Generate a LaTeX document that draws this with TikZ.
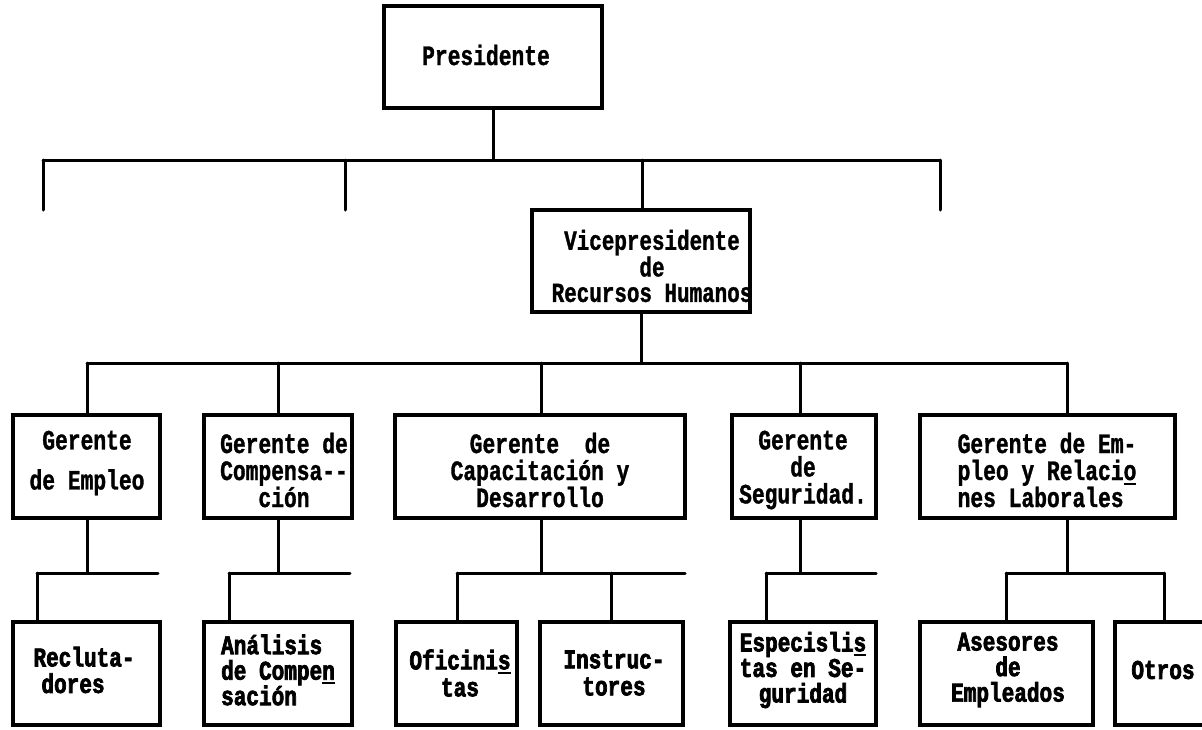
\documentclass[tikz,border=0pt]{standalone}
\usepackage{fontspec}
\setmainfont{Liberation Mono}[BoldFont={Liberation Mono Bold}, BoldFeatures={FakeBold=1.2}, FakeStretch=0.76]
\newfontfamily\heavyfont{Liberation Mono Bold}[FakeStretch=0.78, FakeBold=2.6]
\newcommand\lastul[1]{\makebox[0pt][l]{\rule[-4.5pt]{12.8pt}{2pt}}#1}
\begin{document}
\begin{tikzpicture}[x=1pt,y=-1pt,
  box/.style={draw, line width=3.2pt, inner sep=0pt},
  conn/.style={line width=3pt, line cap=round},
  upper/.style={font=\bfseries\fontsize{28}{27}\selectfont, align=center, inner sep=0pt},
  lower/.style={font=\heavyfont\fontsize{27}{25.5}\selectfont, align=center, inner sep=0pt}]
\useasboundingbox (0,0) rectangle (1202,729);

% boxes
\node[box, minimum width=218pt, minimum height=102pt] (pres) at (493,57) {};
\node[box, minimum width=218pt, minimum height=102pt] (vp) at (641,261) {};
\node[box, minimum width=147pt, minimum height=103pt] (b1) at (86.5,466.5) {};
\node[box, minimum width=148pt, minimum height=103pt] (b2) at (278,466.5) {};
\node[box, minimum width=290pt, minimum height=103pt] (b3) at (540,466.5) {};
\node[box, minimum width=144pt, minimum height=103pt] (b4) at (804,466.5) {};
\node[box, minimum width=255pt, minimum height=103pt] (b5) at (1047.5,466.5) {};
\node[box, minimum width=147pt, minimum height=103pt] (s1) at (86.5,673.5) {};
\node[box, minimum width=148pt, minimum height=103pt] (s2) at (278,673.5) {};
\node[box, minimum width=121pt, minimum height=103pt] (s3) at (456.5,673.5) {};
\node[box, minimum width=143pt, minimum height=103pt] (s4) at (611.5,673.5) {};
\node[box, minimum width=146pt, minimum height=103pt] (s5) at (803,673.5) {};
\node[box, minimum width=173pt, minimum height=103pt] (s6) at (1006.5,673.5) {};
\node[box, minimum width=100pt, minimum height=103pt] (s7) at (1165,673.5) {};

% texts
\node[upper] (tpres) at (486,55) {Presidente};
\node[upper, font=\bfseries\fontsize{27.5}{25.5}\selectfont] (tvp) at (652,266) {Vicepresidente\\de\\Recursos Humanos};
\node[upper] (tb1) at (87,463) {Gerente\\[13pt]de Empleo};
\node[upper] (tb2) at (284,470) {Gerente de\\Compensa-{}-\\ción};
\node[upper] (tb3) at (540,470) {Gerente~~de\\Capacitación y\\Desarrollo};
\node[upper] (tb4) at (803,470) {Gerente\\de\\Seguridad.};
\node[upper, align=left] (tb5) at (1047,470) {Gerente de Em-\\pleo y Relaci\lastul{o}\\nes Laborales};
\node[lower, align=left, font=\heavyfont\fontsize{27}{26.5}\selectfont] (ts1) at (84,670) {Recluta-\\\hspace*{8pt}dores};
\node[lower, align=left] (ts2) at (278,670) {Análisis\\de Compe\lastul{n}\\sación};
\node[lower, font=\heavyfont\fontsize{27}{27}\selectfont] (ts3) at (460,673) {Oficini\lastul{s}\\tas};
\node[lower, font=\heavyfont\fontsize{27}{27}\selectfont] (ts4) at (614,673) {Instruc-\\tores};
\node[lower] (ts5) at (803,670) {Especisli\lastul{s}\\tas en Se-\\guridad};
\node[lower] (ts6) at (1008,670) {Asesores\\de\\Empleados};
\node[lower] (ts7) at (1163,670) {Otros};

% top level connectors
\coordinate (ta) at (43,160);
\coordinate (tb) at (345,160);
\coordinate (tc) at (642,160);
\coordinate (td) at (940,160);
\coordinate (ea) at (43,210);
\coordinate (eb) at (345,210);
\coordinate (ed) at (940,210);
\draw[conn] (pres.south) -- (pres.south |- ta);
\draw[conn] (ta) -- (td);
\draw[conn] (ta) -- (ea);
\draw[conn] (tb) -- (eb);
\draw[conn] (td) -- (ed);
\draw[conn] (tc) -- (tc |- vp.north);

% vice president to managers
\coordinate (ma) at (87,363);
\coordinate (mb) at (278,363);
\coordinate (mc) at (541,363);
\coordinate (md) at (800,363);
\coordinate (me) at (1067,363);
\draw[conn] (vp.south) -- (vp.south |- ma);
\draw[conn] (ma) -- (me);
\draw[conn] (ma) -- (ma |- b1.north);
\draw[conn] (mb) -- (mb |- b2.north);
\draw[conn] (mc) -- (mc |- b3.north);
\draw[conn] (md) -- (md |- b4.north);
\draw[conn] (me) -- (me |- b5.north);

% managers to staff
\coordinate (la1) at (37,573);
\coordinate (la2) at (158,573);
\draw[conn] (ma |- b1.south) -- (ma |- la1);
\draw[conn] (la1) -- (la2);
\draw[conn] (la1) -- (la1 |- s1.north);

\coordinate (lb1) at (229,573);
\coordinate (lb2) at (350,573);
\draw[conn] (mb |- b2.south) -- (mb |- lb1);
\draw[conn] (lb1) -- (lb2);
\draw[conn] (lb1) -- (lb1 |- s2.north);

\coordinate (lc1) at (457,573);
\coordinate (lc2) at (611,573);
\coordinate (lc3) at (685,573);
\draw[conn] (mc |- b3.south) -- (mc |- lc1);
\draw[conn] (lc1) -- (lc3);
\draw[conn] (lc1) -- (lc1 |- s3.north);
\draw[conn] (lc2) -- (lc2 |- s4.north);

\coordinate (ld1) at (766,573);
\coordinate (ld2) at (876,573);
\draw[conn] (md |- b4.south) -- (md |- ld1);
\draw[conn] (ld1) -- (ld2);
\draw[conn] (ld1) -- (ld1 |- s5.north);

\coordinate (le1) at (1006,573);
\coordinate (le2) at (1164,573);
\draw[conn] (me |- b5.south) -- (me |- le1);
\draw[conn] (le1) -- (le2);
\draw[conn] (le1) -- (le1 |- s6.north);
\draw[conn] (le2) -- (le2 |- s7.north);
\end{tikzpicture}
\end{document}
